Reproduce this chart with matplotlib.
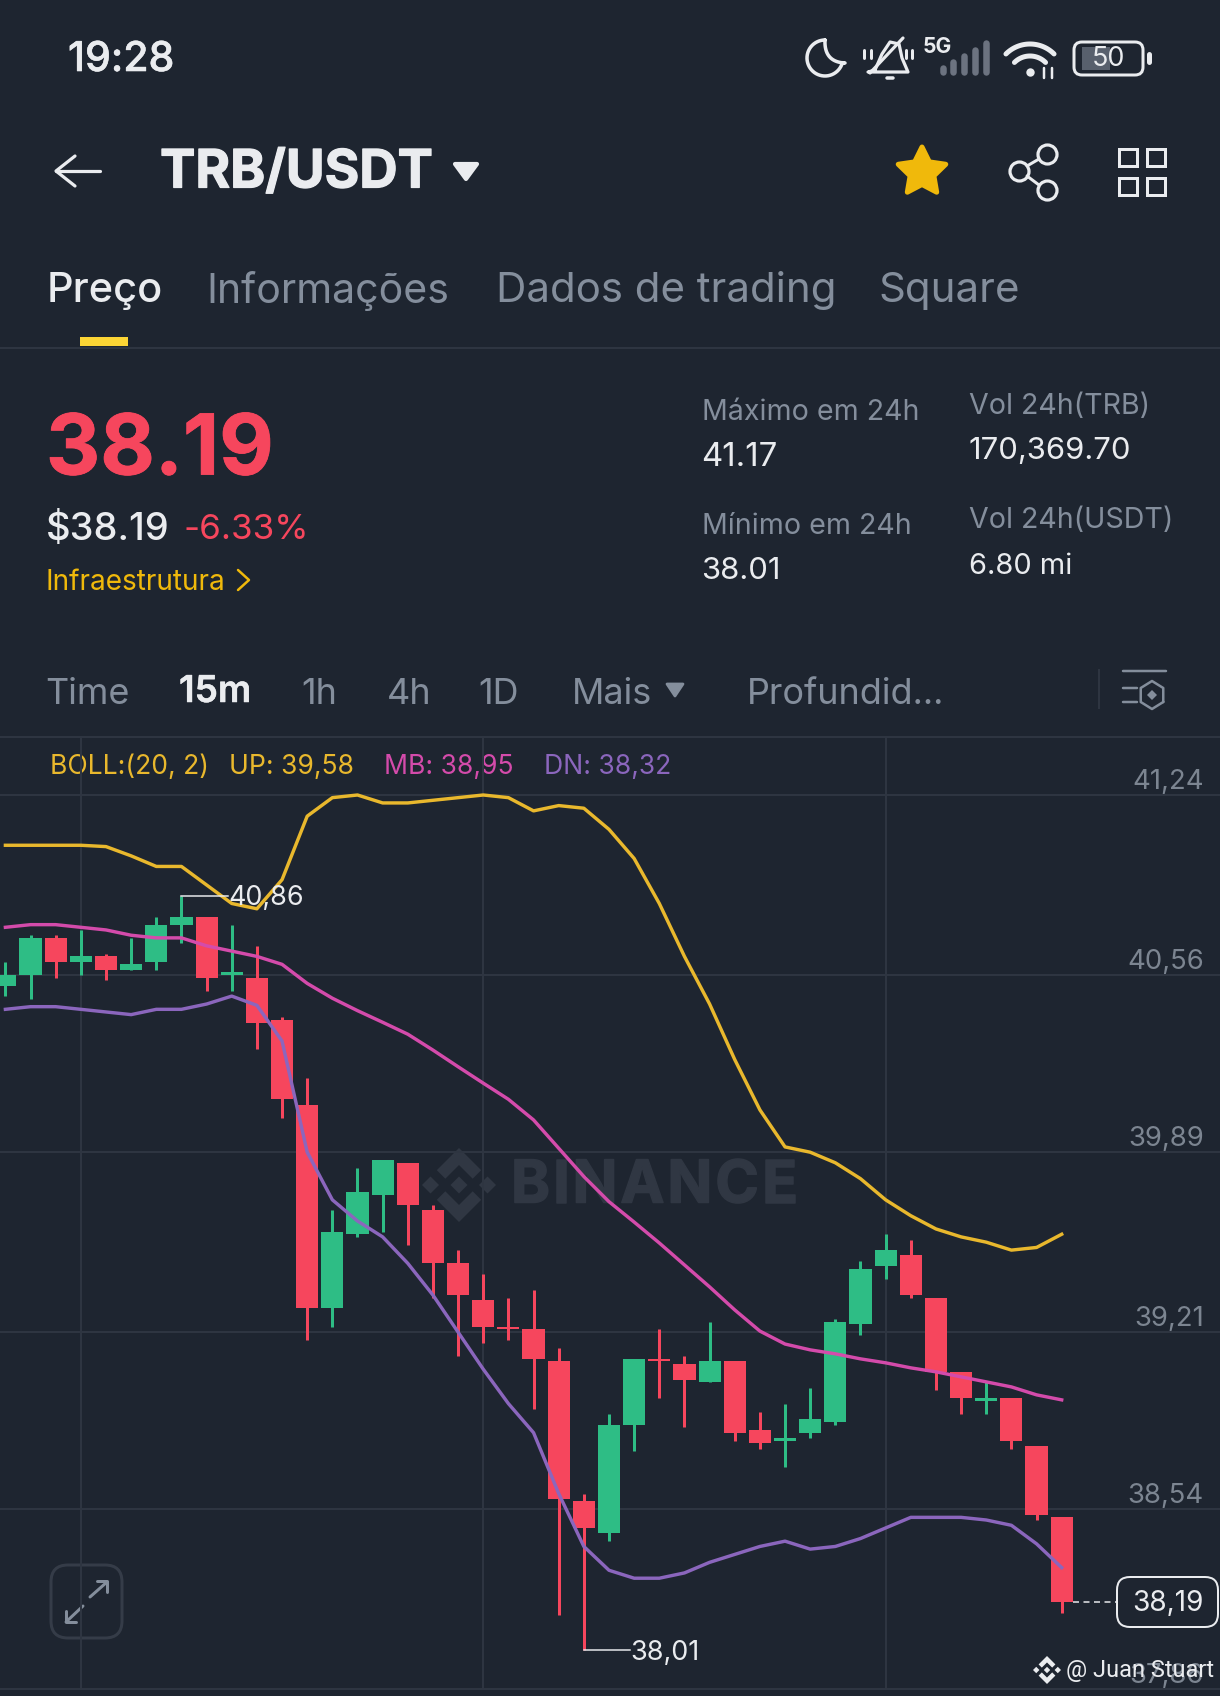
import numpy as np
import matplotlib
matplotlib.use('Agg')
import matplotlib.pyplot as plt
import matplotlib.patheffects as pe
from matplotlib.patches import FancyBboxPatch, Polygon, Rectangle

plt.rcParams['font.family'] = ['Inter', 'DejaVu Sans']

W, H = 1220, 1696

# candle data
opens = [40.52, 40.56, 40.70, 40.61, 40.63, 40.58, 40.61, 40.75, 40.78, 40.56, 40.55,
         40.39, 40.07, 39.30, 39.58, 39.73, 39.85, 39.67, 39.47, 39.33, 39.23, 39.22,
         39.10, 38.57, 38.45, 38.86, 39.11, 39.09, 39.02, 39.10, 38.84, 38.80, 38.83,
         38.87, 39.24, 39.46, 39.50, 39.34, 39.06, 38.95, 38.96, 38.78, 38.51]
closes = [40.56, 40.70, 40.61, 40.63, 40.58, 40.60, 40.75, 40.78, 40.55, 40.57, 40.38,
          40.09, 39.30, 39.59, 39.74, 39.86, 39.69, 39.47, 39.35, 39.23, 39.22, 39.11,
          38.58, 38.47, 38.86, 39.11, 39.10, 39.03, 39.10, 38.83, 38.79, 38.81, 38.88,
          39.25, 39.45, 39.52, 39.35, 39.06, 38.96, 38.96, 38.80, 38.52, 38.19]
highs = [40.61, 40.71, 40.71, 40.73, 40.64, 40.70, 40.78, 40.86, 40.78, 40.75, 40.67,
         40.40, 40.17, 39.67, 39.83, 39.86, 39.85, 39.69, 39.52, 39.43, 39.34, 39.37,
         39.15, 38.60, 38.90, 39.11, 39.22, 39.12, 39.25, 39.10, 38.91, 38.94, 39.00,
         39.26, 39.48, 39.58, 39.56, 39.34, 39.06, 39.02, 38.96, 38.78, 38.51]
lows = [40.48, 40.47, 40.55, 40.56, 40.54, 40.58, 40.58, 40.68, 40.50, 40.50, 40.28,
        40.02, 39.18, 39.23, 39.57, 39.59, 39.54, 39.34, 39.12, 39.17, 39.18, 38.92,
        38.14, 38.01, 38.42, 38.76, 38.96, 38.85, 39.02, 38.80, 38.77, 38.70, 38.81,
        38.86, 39.20, 39.41, 39.34, 38.99, 38.90, 38.90, 38.77, 38.50, 38.15]

# bollinger bands
boll_up = [41.05, 41.05, 41.05, 41.05, 41.045, 41.01, 40.97, 40.97, 40.90, 40.83, 40.81,
           40.92, 41.16, 41.23, 41.24, 41.21, 41.21, 41.22, 41.23, 41.24, 41.23, 41.18,
           41.20, 41.19, 41.11, 41.00, 40.83, 40.63, 40.45, 40.24, 40.05, 39.91, 39.89,
           39.85, 39.79, 39.71, 39.65, 39.60, 39.57, 39.55, 39.52, 39.53, 39.58]
boll_mb = [40.74, 40.75, 40.75, 40.74, 40.73, 40.71, 40.70, 40.70, 40.67, 40.65, 40.63,
           40.60, 40.528, 40.472, 40.425, 40.381, 40.336, 40.276, 40.213, 40.151, 40.09, 40.012,
           39.905, 39.798, 39.703, 39.626, 39.547, 39.464, 39.381, 39.294, 39.214, 39.165, 39.143,
           39.128, 39.109, 39.094, 39.075, 39.06, 39.041, 39.022, 39.003, 38.973, 38.954]
boll_dn = [40.43, 40.44, 40.44, 40.43, 40.42, 40.41, 40.43, 40.43, 40.45, 40.48, 40.445,
           40.31, 39.89, 39.71, 39.63, 39.57, 39.47, 39.35, 39.21, 39.07, 38.94, 38.83,
           38.60, 38.40, 38.31, 38.28, 38.28, 38.30, 38.34, 38.37, 38.40, 38.42, 38.39,
           38.40, 38.43, 38.47, 38.51, 38.51, 38.51, 38.50, 38.48, 38.41, 38.32]

price_ticks = [41.24, 40.56, 39.89, 39.21, 38.54, 37.86]
price_labels = ['41,24', '40,56', '39,89', '39,21', '38,54', '37,86']
time_grid = [3, 19, 35]

BG = '#1e2530'
GRID = '#2e3541'
RED = '#f6465d'
GREEN = '#2ebd85'
YELLOW = '#e9b82d'
PINK = '#d44bab'
PURPLE = '#8b66bd'
GRAY = '#848e9c'
WHITE = '#eaecef'
DPX = 0.72  # points per pixel at dpi 100

fig = plt.figure(figsize=(W / 100, H / 100), dpi=100, facecolor=BG)

# background axes in pixel coordinates, for the app around the chart
ui = fig.add_axes([0, 0, 1, 1], zorder=0)
ui.set_xlim(0, W)
ui.set_ylim(H, 0)
ui.axis('off')


def label(x, y, s, px, color=WHITE, weight='normal', ha='left', thick=0, family=None):
    t = ui.text(x, y + 3, s, fontsize=px * DPX, color=color, fontweight=weight, ha=ha, va='center')
    if family:
        t.set_family(family)
    if thick:
        t.set_path_effects([pe.withStroke(linewidth=thick * DPX, foreground=color)])
    return t


def stroke(xs, ys, lw=3, color=WHITE, **kw):
    ui.plot(xs, ys, color=color, lw=lw * DPX, solid_capstyle='round', solid_joinstyle='round', **kw)


def arc(cx, cy, r, a0, a1):
    t = np.radians(np.linspace(a0, a1, 40))
    return cx + r * np.cos(t), cy - r * np.sin(t)


def round_box(x0, y0, x1, y1, r, edge=WHITE, face='none', lw=3):
    ui.add_patch(FancyBboxPatch((x0, y0), x1 - x0, y1 - y0, boxstyle='round,pad=0,rounding_size=%g' % r,
                                edgecolor=edge, facecolor=face, lw=lw * DPX))


def binance_logo(cx, cy, r, color):
    top = np.array([(0, -1), (.6, -.4), (.37, -.17), (0, -.54), (-.37, -.17), (-.6, -.4)])
    for pts in (top, top * [1, -1]):
        ui.add_patch(Polygon(pts * r + [cx, cy], color=color, lw=0))
    diamond = np.array([(0, -.23), (.23, 0), (0, .23), (-.23, 0)])
    for dx in (-.77, 0, .77):
        ui.add_patch(Polygon((diamond + [dx, 0]) * r + [cx, cy], color=color, lw=0))


# status bar
label(68, 57, '19:28', 41, weight='medium', thick=0.6)

# moon
t = np.linspace(0, 1, 30)
mx = (1 - t) ** 2 * 845 + 2 * t * (1 - t) * 824 + t ** 2 * 825
my = (1 - t) ** 2 * 63 + 2 * t * (1 - t) * 62 + t ** 2 * 40
ox, oy = arc(825, 58, 18, 90, 345)
stroke(np.r_[ox, mx], np.r_[oy, my], lw=3.5)

# muted bell
stroke([875, 882, 890, 899, 902, 908, 868, 875], [70, 54, 42, 44, 58, 72, 72, 70], lw=3.2)
stroke([870, 903], [73, 38], lw=3.2)
stroke([887, 893], [78, 78], lw=3.5)
for bx in (864, 871, 906, 912):
    stroke([bx, bx], [50, 58], lw=3)

# signal bars
label(923, 44, '5G', 21, weight='bold')
for bx, top_y in zip([943, 953, 964, 975, 986], [68, 62, 56, 50, 43]):
    stroke([bx, bx], [top_y, 72], lw=6.5, color='#6c7380')

# wifi
for r in (34, 22):
    ax_, ay_ = arc(1030, 78, r, 45, 135)
    stroke(ax_, ay_, lw=5)
ui.plot([1030], [72], 'o', ms=7 * DPX * 1.2, color=WHITE, mew=0)
stroke([1044, 1044], [68, 78], lw=2.5)
stroke([1052, 1052], [68, 78], lw=2.5)

# battery
round_box(1074, 42, 1143, 75, 8, lw=3)
ui.add_patch(Rectangle((1082, 47), 28, 23, color='#58606d', lw=0))
label(1108, 56, '50', 27, ha='center')
stroke([1149, 1149], [54, 62], lw=5)

# header
stroke([100, 56], [171, 171], lw=3.2)
stroke([75, 56, 75], [156, 171, 186], lw=3.2)
label(160, 171, 'TRB/USDT', 53, weight='bold', thick=1.2)
ui.add_patch(Polygon([(455, 164), (477, 164), (466, 179)], closed=True, facecolor=WHITE, edgecolor=WHITE, lw=3, joinstyle='round'))
ang = np.radians(90 + 36 * np.arange(10))
rad = np.where(np.arange(10) % 2 == 0, 25, 12.5)
ui.add_patch(Polygon(np.c_[922 + rad * np.cos(ang), 172 - rad * np.sin(ang)], facecolor='#f0b90b',
                     edgecolor='#f0b90b', lw=5 * DPX, joinstyle='round'))

# share icon
sx, sy = [1047, 1019, 1047], [154, 171, 190]
stroke([1039, 1027], [159, 166], lw=3)
stroke([1027, 1039], [176, 185], lw=3)
for cx_, cy_ in zip(sx, sy):
    ui.plot([cx_], [cy_], 'o', ms=19 * DPX, mfc='none', mec=WHITE, mew=3.2 * DPX)

# grid icon
for gx in (1119, 1147):
    for gy in (149, 178):
        ui.add_patch(Rectangle((gx, gy), 18, 17, fill=False, edgecolor=WHITE, lw=3 * DPX))

# tabs
label(47, 288, 'Preço', 41.5, weight='medium')
label(206, 288, 'Informações', 41, color=GRAY)
label(496, 288, 'Dados de trading', 42, color=GRAY)
label(878, 288, 'Square', 42, color=GRAY)
ui.add_patch(Rectangle((80, 337), 48, 9, color='#fcd535', lw=0))
ui.plot([0, W], [347.5, 347.5], color=GRID, lw=2 * DPX)

# price block
label(46, 449, '38.19', 84, color=RED, weight='bold', thick=0.8)
label(46, 527, '$38.19', 38, weight='medium')
label(184, 527, '-6.33%', 35, color=RED)
label(46, 579, 'Infraestrutura', 28, color='#f0b90b')
stroke([238, 249, 238], [570, 580, 590], lw=2.5, color='#f0b90b')

label(702, 410, 'Máximo em 24h', 28.6, color=GRAY)
label(701, 454, '41.17', 33)
label(702, 524, 'Mínimo em 24h', 28.6, color=GRAY)
label(701, 568, '38.01', 31)
label(969, 404, 'Vol 24h(TRB)', 28.6, color=GRAY)
label(969, 448, '170,369.70', 31)
label(969, 518, 'Vol 24h(USDT)', 28.6, color=GRAY)
label(969, 563, '6.80 mi', 29)

# timeframe bar
for tx, tf in zip([45, 301, 387, 478, 572, 747], ['Time', '1h', '4h', '1D', 'Mais', 'Profundid...']):
    label(tx, 691, tf, 36, color=GRAY)
label(179, 689, '15m', 37, weight='semibold', thick=0.5)
ui.add_patch(Polygon([(667, 684), (683, 684), (675, 696)], closed=True, facecolor=GRAY, edgecolor=GRAY, lw=2, joinstyle='round'))
ui.plot([1099, 1099], [670, 708], color=GRID, lw=2 * DPX)
stroke([1123, 1166], [671, 671], lw=2.5, color=GRAY)
stroke([1123, 1137], [688, 688], lw=2.5, color=GRAY)
stroke([1123, 1137], [702, 702], lw=2.5, color=GRAY)
hex_t = np.radians(np.arange(30, 391, 60))
stroke(1152 + 13 * np.cos(hex_t), 695 + 14 * np.sin(hex_t), lw=2.5, color=GRAY)
ui.add_patch(Polygon([(1152, 690), (1157, 695), (1152, 700), (1147, 695)], color=GRAY, lw=0))
ui.plot([0, W], [737, 737], color=GRID, lw=2 * DPX)

# watermark sits under the candles, letters spaced out by hand
binance_logo(459, 1185, 37, '#303743')
wm_x = 511
for ch in 'BINANCE':
    wm = ui.text(wm_x, 1187, ch, fontsize=59 * DPX, fontweight='bold', color='#303743', va='center',
                 path_effects=[pe.withStroke(linewidth=1.5 * DPX, foreground='#303743')])
    box = wm.get_window_extent(fig.canvas.get_renderer())
    wm_x += box.width + 3

# indicator legend
label(50, 764, 'BOLL:(20, 2)', 26.5, color=YELLOW)
label(229, 764, 'UP: 39,58', 26.5, color=YELLOW)
label(384, 764, 'MB: 38,95', 26.5, color=PINK)
label(544, 764, 'DN: 38,32', 26.5, color=PURPLE)

# expand button
round_box(51, 1565, 122, 1638, 17, edge='#353c48', lw=3)
stroke([90, 107], [1597, 1582], lw=3, color=GRAY)
stroke([97, 107, 107], [1581, 1581, 1592], lw=3, color=GRAY)
stroke([83, 66], [1606, 1622], lw=3, color=GRAY)
stroke([66, 66, 76], [1611, 1622, 1622], lw=3, color=GRAY)

# last price box
round_box(1117, 1577, 1218, 1627, 13, edge=WHITE, lw=2)
label(1168, 1601, '38,19', 28, ha='center')

# chart axes: 264.6 px per price unit, 25.15 px per candle
ax = fig.add_axes([0, 1 - 1690 / H, 1, (1690 - 738) / H], zorder=1)
ax.patch.set_alpha(0)
ax.set_xlim(-5.4 / 25.15, (W - 5.4) / 25.15)
ax.set_ylim(41.24 - (1690 - 795) / 264.6, 41.24 + (795 - 738) / 264.6)
for side in ax.spines:
    ax.spines[side].set_visible(False)
ax.set_yticks(price_ticks)
ax.set_xticks(time_grid)
ax.tick_params(length=0, labelleft=False, labelbottom=False)
ax.grid(True, color=GRID, lw=2 * DPX)
ax.set_axisbelow(True)

idx = np.arange(len(opens))
o = np.array(opens)
c = np.array(closes)
colors = [GREEN if up else RED for up in c >= o]
ax.vlines(idx, lows, highs, colors=colors, lw=3 * DPX, zorder=2)
ax.bar(idx, np.abs(c - o), bottom=np.minimum(o, c), width=0.88, color=colors, lw=0, zorder=2)

ax.plot(idx, boll_up, color=YELLOW, lw=3.4 * DPX, zorder=3, solid_joinstyle='round')
ax.plot(idx, boll_mb, color=PINK, lw=3.4 * DPX, zorder=3, solid_joinstyle='round')
ax.plot(idx, boll_dn, color=PURPLE, lw=3.4 * DPX, zorder=3, solid_joinstyle='round')

# price axis labels sit just over their grid lines
for p, s in zip(price_ticks, price_labels):
    ax.annotate(s, xy=(1204 / W, p), xycoords=('axes fraction', 'data'), xytext=(0, 13 * DPX),
                textcoords='offset points', ha='right', va='center', fontsize=27.5 * DPX, color='#7c8591')

# high and low markers
hi = int(np.argmax(highs))
lo = int(np.argmin(lows))
ax.plot([hi, hi + 1.87], [highs[hi], highs[hi]], color=WHITE, lw=1.5 * DPX, zorder=4)
ax.plot([lo, lo + 1.85], [lows[lo], lows[lo]], color=WHITE, lw=1.5 * DPX, zorder=4)
ax.annotate('40,86', xy=(hi + 1.87, highs[hi]), xytext=(0, -2 * DPX), textcoords='offset points',
            color=WHITE, fontsize=27 * DPX, va='center', zorder=4)
ax.annotate('38,01', xy=(lo + 1.83, lows[lo]), xytext=(0, -3 * DPX), textcoords='offset points',
            color=WHITE, fontsize=27 * DPX, va='center', zorder=4)

# dashed line to the last price box
ax.plot([idx[-1] + 0.45, 44.18], [closes[-1], closes[-1]], color=WHITE, lw=1.5 * DPX, ls=(0, (4, 3)), zorder=4)

# credit goes on top of the 37,86 label
top = fig.add_axes([0, 0, 1, 1], zorder=2)
top.set_xlim(0, W)
top.set_ylim(H, 0)
top.axis('off')
ui_under = ui
ui = top
binance_logo(1047, 1670, 14, WHITE)
label(1066, 1668, '@ Juan Stuart', 23.5, family=['Roboto', 'DejaVu Sans'])
ui = ui_under

fig.savefig('out.png', dpi=100, facecolor=BG)
